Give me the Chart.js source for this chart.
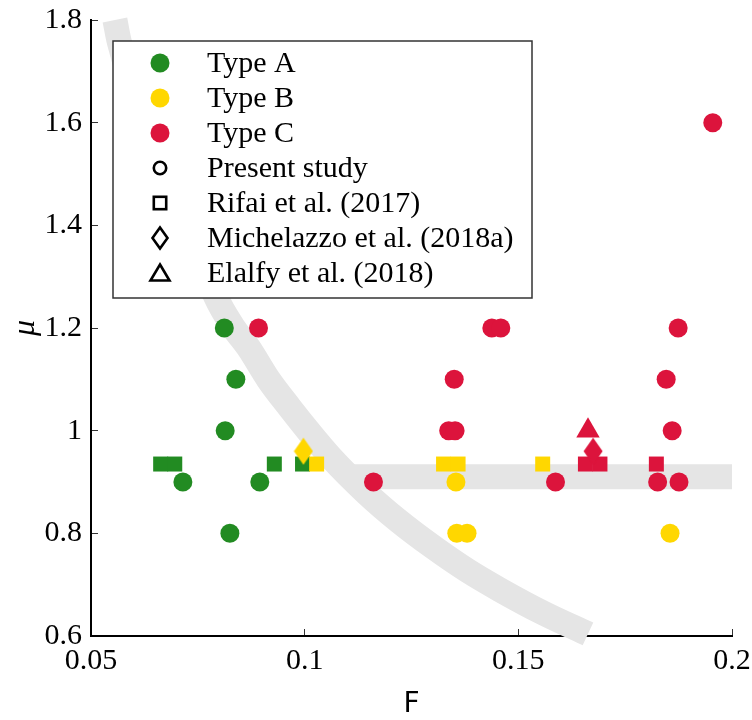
<!DOCTYPE html>
<html>
<head>
<meta charset="utf-8">
<script src="https://cdn.jsdelivr.net/npm/chart.js@4.4.1/dist/chart.umd.min.js"></script>
<style>
  html, body { margin: 0; padding: 0; background: #fff; }
</style>
</head>
<body>
<canvas id="myChart" width="752" height="720"></canvas>
<script>
// axis ticks
const xTicks = [0.05, 0.1, 0.15, 0.2]
const xTickLabels = ['0.05', '0.1', '0.15', '0.2']
const yTicks = [0.6, 0.8, 1.0, 1.2, 1.4, 1.6, 1.8]
const yTickLabels = ['0.6', '0.8', '1', '1.2', '1.4', '1.6', '1.8']

// Type A
const typeAPresentF = [0.0812, 0.0839, 0.0814, 0.0715, 0.0895, 0.0825]
const typeAPresentMu = [1.2, 1.1, 1.0, 0.9, 0.9, 0.8]
const typeARifaiF = [0.0663, 0.0696, 0.0929, 0.0995]
const typeARifaiMu = [0.935, 0.935, 0.935, 0.935]

// Type B
const typeBPresentF = [0.1354, 0.1356, 0.138, 0.1855]
const typeBPresentMu = [0.9, 0.8, 0.8, 0.8]
const typeBRifaiF = [0.1028, 0.1325, 0.1359, 0.1557]
const typeBRifaiMu = [0.935, 0.935, 0.935, 0.935]
const typeBMichelazzoF = [0.0997]
const typeBMichelazzoMu = [0.96]

// Type C
const typeCPresentF = [0.0892, 0.1438, 0.1459, 0.135, 0.1337, 0.1352, 0.1161, 0.1587, 0.1826, 0.1876, 0.1874, 0.1846, 0.186, 0.1955]
const typeCPresentMu = [1.2, 1.2, 1.2, 1.1, 1.0, 1.0, 0.9, 0.9, 0.9, 0.9, 1.2, 1.1, 1.0, 1.6]
const typeCRifaiF = [0.1657, 0.1691, 0.1823]
const typeCRifaiMu = [0.935, 0.935, 0.935]
const typeCMichelazzoF = [0.1675]
const typeCMichelazzoMu = [0.96]
const typeCElalfyF = [0.1663]
const typeCElalfyMu = [1.0]

// grey boundary bands
const curveF = [0.0556, 0.0566, 0.0792, 0.0830, 0.0870, 0.0915, 0.0965, 0.1010, 0.1060, 0.1145, 0.1220, 0.1301, 0.1380, 0.1457, 0.1560, 0.1663]
const curveMu = [1.80, 1.758, 1.261, 1.205, 1.16, 1.10, 1.045, 0.998, 0.949, 0.878, 0.824, 0.773, 0.728, 0.690, 0.644, 0.604]
const flatF = [0.1095, 0.2]
const flatMu = [0.91, 0.91]

const typeNames = ['Type A', 'Type B', 'Type C']
const sourceNames = ['Present study', 'Rifai et al. (2017)', 'Michelazzo et al. (2018a)', 'Elalfy et al. (2018)']

const GREEN = 'rgb(34, 139, 34)'
const YELLOW = 'rgb(255, 215, 0)'
const RED = 'rgb(220, 20, 60)'
const BAND = 'rgb(229, 229, 229)'
const SERIF = '"Liberation Serif", "Times New Roman", serif'

function toPoints(xs, ys) {
  return xs.map((x, i) => ({x: x, y: ys[i]}))
}

// thin diamond marker as an image
function diamondImage(color) {
  const c = document.createElement('canvas')
  c.width = 20
  c.height = 28
  const g = c.getContext('2d')
  g.fillStyle = color
  g.beginPath()
  g.moveTo(10, 0.5)
  g.lineTo(19.5, 14)
  g.lineTo(10, 27.5)
  g.lineTo(0.5, 14)
  g.closePath()
  g.fill()
  return c
}

function markers(xs, ys, color, style, radius, order) {
  return {
    data: toPoints(xs, ys),
    backgroundColor: color,
    borderWidth: 0,
    pointStyle: style,
    pointRadius: radius,
    pointHoverRadius: radius,
    order: order
  }
}

function band(xs, ys) {
  return {
    data: toPoints(xs, ys),
    showLine: true,
    borderColor: BAND,
    borderWidth: 25,
    borderCapStyle: 'butt',
    cubicInterpolationMode: 'monotone',
    pointRadius: 0,
    clip: false,
    order: 10
  }
}

// legend box drawn inside the plot, top left
const legendPlugin = {
  id: 'typeLegend',
  afterDraw(chart) {
    const ctx = chart.ctx
    const area = chart.chartArea
    const left = area.left + 22
    const top = area.top + 21
    const w = 419
    const h = 257
    ctx.save()
    ctx.fillStyle = '#fff'
    ctx.fillRect(left, top, w, h)
    ctx.strokeStyle = '#333'
    ctx.lineWidth = 1.5
    ctx.strokeRect(left, top, w, h)

    const mx = left + 47
    const tx = left + 94
    const rowY = i => top + 22 + i * 35
    const labels = typeNames.concat(sourceNames)
    const colors = [GREEN, YELLOW, RED]

    colors.forEach((c, i) => {
      ctx.fillStyle = c
      ctx.beginPath()
      ctx.arc(mx, rowY(i), 9.5, 0, Math.PI * 2)
      ctx.fill()
    })

    ctx.strokeStyle = '#000'
    ctx.lineWidth = 2.6
    let y = rowY(3)
    ctx.beginPath()
    ctx.arc(mx, y, 6.2, 0, Math.PI * 2)
    ctx.stroke()
    y = rowY(4)
    ctx.strokeRect(mx - 6.2, y - 6.2, 12.4, 12.4)
    y = rowY(5)
    ctx.beginPath()
    ctx.moveTo(mx, y - 10.5)
    ctx.lineTo(mx + 7.5, y)
    ctx.lineTo(mx, y + 10.5)
    ctx.lineTo(mx - 7.5, y)
    ctx.closePath()
    ctx.stroke()
    y = rowY(6)
    ctx.beginPath()
    ctx.moveTo(mx, y - 8.5)
    ctx.lineTo(mx + 9.5, y + 7.5)
    ctx.lineTo(mx - 9.5, y + 7.5)
    ctx.closePath()
    ctx.stroke()

    ctx.fillStyle = '#000'
    ctx.font = '30px ' + SERIF
    ctx.textAlign = 'left'
    ctx.textBaseline = 'middle'
    labels.forEach((t, i) => ctx.fillText(t, tx, rowY(i) + 1))
    ctx.restore()
  }
}

const ctx = document.getElementById('myChart').getContext('2d')
const chart = new Chart(ctx, {
  type: 'scatter',
  data: {
    datasets: [
      band(curveF, curveMu),
      band(flatF, flatMu),
      markers(typeAPresentF, typeAPresentMu, GREEN, 'circle', 9.5, 5),
      markers(typeARifaiF, typeARifaiMu, GREEN, 'rect', 10.6, 5),
      markers(typeBPresentF, typeBPresentMu, YELLOW, 'circle', 9.5, 4),
      markers(typeBRifaiF, typeBRifaiMu, YELLOW, 'rect', 10.6, 4),
      markers(typeCPresentF, typeCPresentMu, RED, 'circle', 9.5, 3),
      markers(typeCRifaiF, typeCRifaiMu, RED, 'rect', 10.6, 3),
      markers(typeCElalfyF, typeCElalfyMu, RED, 'triangle', 13.5, 2),
      markers(typeBMichelazzoF, typeBMichelazzoMu, YELLOW, diamondImage(YELLOW), 14, 1),
      markers(typeCMichelazzoF, typeCMichelazzoMu, RED, diamondImage(RED), 14, 1)
    ]
  },
  options: {
    responsive: false,
    animation: false,
    events: [],
    layout: { padding: { top: 20, right: 20, left: 0, bottom: 0 } },
    plugins: { legend: { display: false }, tooltip: { enabled: false } },
    scales: {
      x: {
        type: 'linear',
        min: 0.05,
        max: 0.2,
        afterBuildTicks: scale => { scale.ticks = xTicks.map(v => ({value: v})) },
        afterFit: scale => {
          scale.height = 84
          scale.paddingLeft = 0
          scale.paddingRight = 0
        },
        ticks: {
          autoSkip: false,
          maxRotation: 0,
          padding: 14,
          color: '#000',
          font: { family: SERIF, size: 30 },
          callback: (v, i) => xTickLabels[i]
        },
        grid: { drawOnChartArea: false, tickLength: -7, color: '#333', lineWidth: 1 },
        border: { color: '#000', width: 2 },
        title: {
          display: true,
          text: 'F',
          color: '#000',
          font: { family: '"DejaVu Sans", sans-serif', size: 28, lineHeight: 1 },
          padding: { top: 0, bottom: 1 }
        }
      },
      y: {
        type: 'linear',
        min: 0.6,
        max: 1.8,
        afterBuildTicks: scale => { scale.ticks = yTicks.map(v => ({value: v})) },
        afterFit: scale => {
          scale.width = 91
          scale.paddingTop = 0
          scale.paddingBottom = 0
        },
        ticks: {
          autoSkip: false,
          padding: 16,
          color: '#000',
          font: { family: SERIF, size: 30 },
          callback: (v, i) => yTickLabels[i]
        },
        grid: { drawOnChartArea: false, tickLength: -7, color: '#333', lineWidth: 1 },
        border: { color: '#000', width: 2 },
        title: {
          display: true,
          text: 'μ',
          color: '#000',
          font: { family: SERIF, size: 32, style: 'italic', lineHeight: 1 },
          padding: { top: 10, bottom: 0 }
        }
      }
    }
  },
  plugins: [legendPlugin]
})
</script>
</body>
</html>
